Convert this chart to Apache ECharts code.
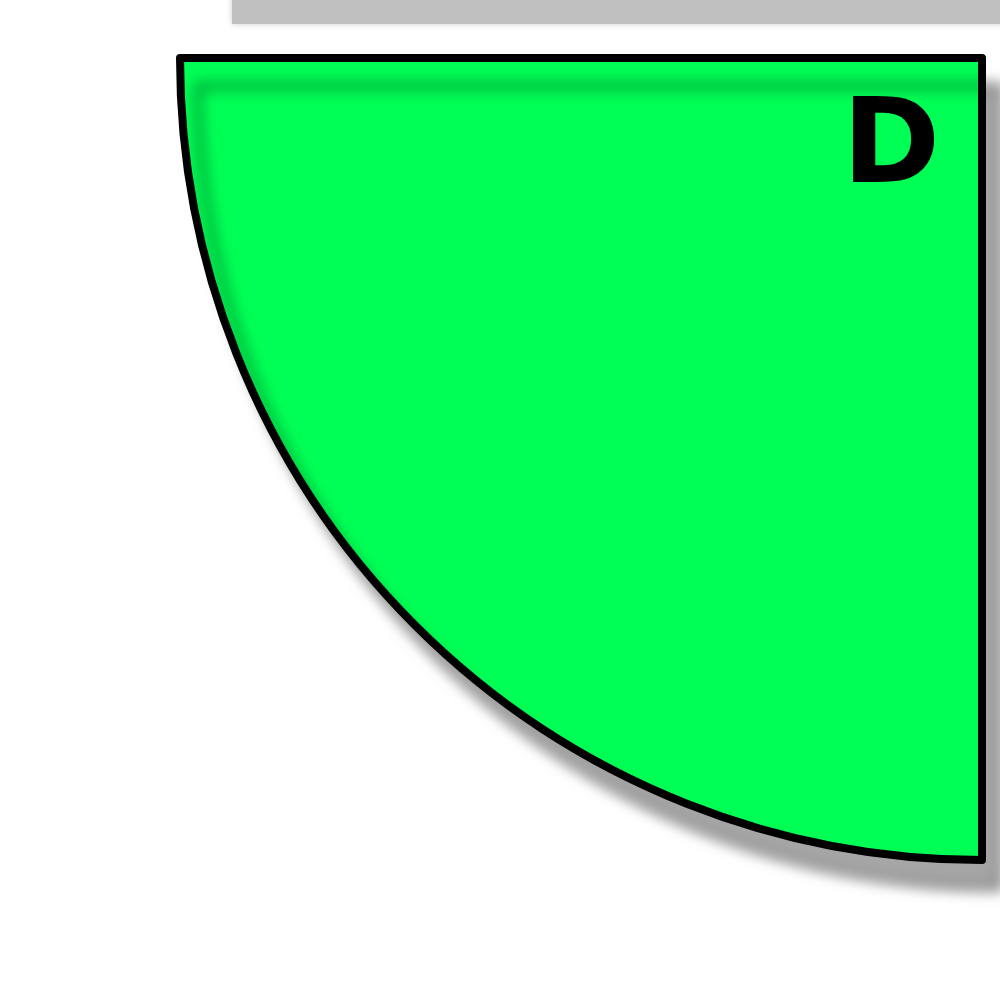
<!DOCTYPE html>
<html>
<head>
<meta charset="utf-8">
<script src="https://cdn.jsdelivr.net/npm/echarts@6/dist/echarts.min.js"></script>
<style>html,body{margin:0;padding:0;background:#fff}#main{width:1000px;height:1000px}</style>
</head>
<body>
<div id="main"></div>
<script>
var categories = ['D', 'A', 'B', 'C'];
var values = [1, 1, 1, 1];

var chart = echarts.init(document.getElementById('main'));
var data = categories.map(function (name, i) {
  if (name === 'D') {
    return {
      name: name,
      value: values[i],
      itemStyle: {
        color: '#00ff55',
        borderColor: '#000',
        borderWidth: 8,
        borderJoin: 'round',
        shadowColor: 'rgba(0,0,0,0.35)',
        shadowBlur: 14,
        shadowOffsetX: 18,
        shadowOffsetY: 28
      },
      label: {
        show: true,
        position: 'inside',
        formatter: '{b}',
        offset: [195, -192],
        fontSize: 118,
        fontWeight: 'bold',
        fontFamily: 'DejaVu Sans',
        color: '#000'
      }
    };
  }
  return { name: name, value: values[i], itemStyle: { color: 'transparent' }, label: { show: false } };
});

chart.setOption({
  animation: false,
  graphic: [{
    type: 'rect', z: -1,
    shape: { x: 232, y: -20, width: 800, height: 44 },
    style: { fill: '#c0c0c0', shadowColor: 'rgba(0,0,0,0.2)', shadowBlur: 6 }
  }],
  series: [{
    type: 'pie',
    center: [982, 58],
    radius: [0, 802],
    startAngle: 180,
    clockwise: false,
    silent: true,
    labelLine: { show: false },
    data: data
  }]
});
</script>
</body>
</html>
